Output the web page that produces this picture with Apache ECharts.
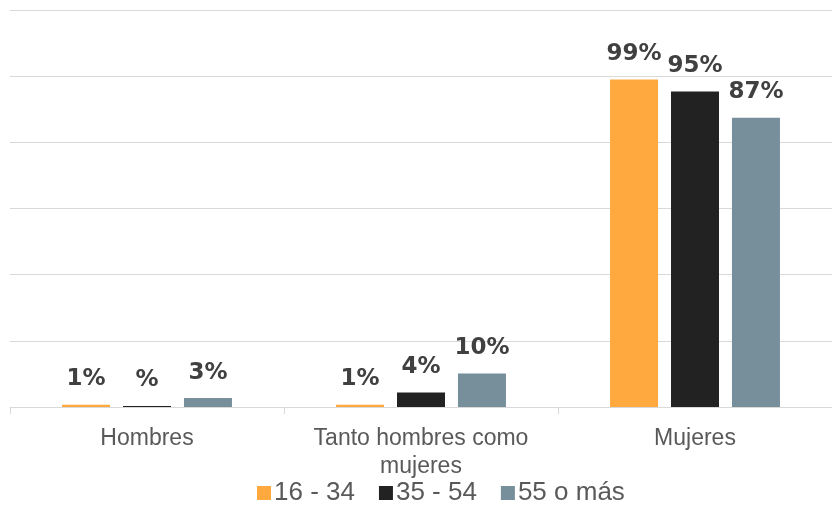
<!DOCTYPE html>
<html><head><meta charset="utf-8">
<script src="https://cdn.jsdelivr.net/npm/echarts@6/dist/echarts.min.js"></script>
<style>html,body{margin:0;padding:0;background:#fff}#c{width:832px;height:528px}</style>
</head><body><div id="c"></div>
<script>
const categories = ['Hombres', 'Tanto hombres como\nmujeres', 'Mujeres'];
const seriesNames = ['16 - 34', '35 - 54', '55 o más'];
const values1634 = [0.7, 0.7, 99];
const values3554 = [0.3, 4.4, 95.4];
const values55 = [2.7, 10.1, 87.4];
const labels1634 = ['1%', '1%', '99%'];
const labels3554 = ['%', '4%', '95%'];
const labels55 = ['3%', '10%', '87%'];
const colors = ['#FFA93F', '#222222', '#778F9B'];

const chart = echarts.init(document.getElementById('c'));
function mk(name, data, labels, color) {
  return {
    name, type: 'bar', data, barWidth: 48, barGap: '27%',
    itemStyle: { color },
    label: {
      show: true, position: 'top', distance: 14,
      formatter: p => labels[p.dataIndex],
      fontFamily: 'DejaVu Sans', fontWeight: 'bold', fontSize: 23, color: '#404040'
    }
  };
}
chart.setOption({
  animation: false,
  grid: { left: 10, right: 0, top: 10, bottom: 121, containLabel: false },
  legend: {
    top: 475, left: 252, itemWidth: 14, itemHeight: 14, itemGap: 24,
    icon: 'rect',
    textStyle: { fontFamily: 'Liberation Sans', fontSize: 26, color: '#595959', padding: [0, 0, 0, -2] },
    data: seriesNames
  },
  xAxis: {
    type: 'category', data: categories,
    axisLine: { lineStyle: { color: '#d9d9d9', width: 1 } },
    axisTick: { show: true, interval: 0, length: 7, lineStyle: { color: '#d9d9d9' } },
    axisLabel: { interval: 0, hideOverlap: false, fontFamily: 'Liberation Sans', fontSize: 23, color: '#595959', lineHeight: 28, margin: 18 }
  },
  yAxis: {
    type: 'value', min: 0, max: 120, interval: 20,
    axisLabel: { show: false }, axisLine: { show: false }, axisTick: { show: false },
    splitLine: { lineStyle: { color: '#d9d9d9', width: 1 } }
  },
  series: [
    mk(seriesNames[0], values1634, labels1634, colors[0]),
    mk(seriesNames[1], values3554, labels3554, colors[1]),
    mk(seriesNames[2], values55, labels55, colors[2])
  ]
});
</script></body></html>
